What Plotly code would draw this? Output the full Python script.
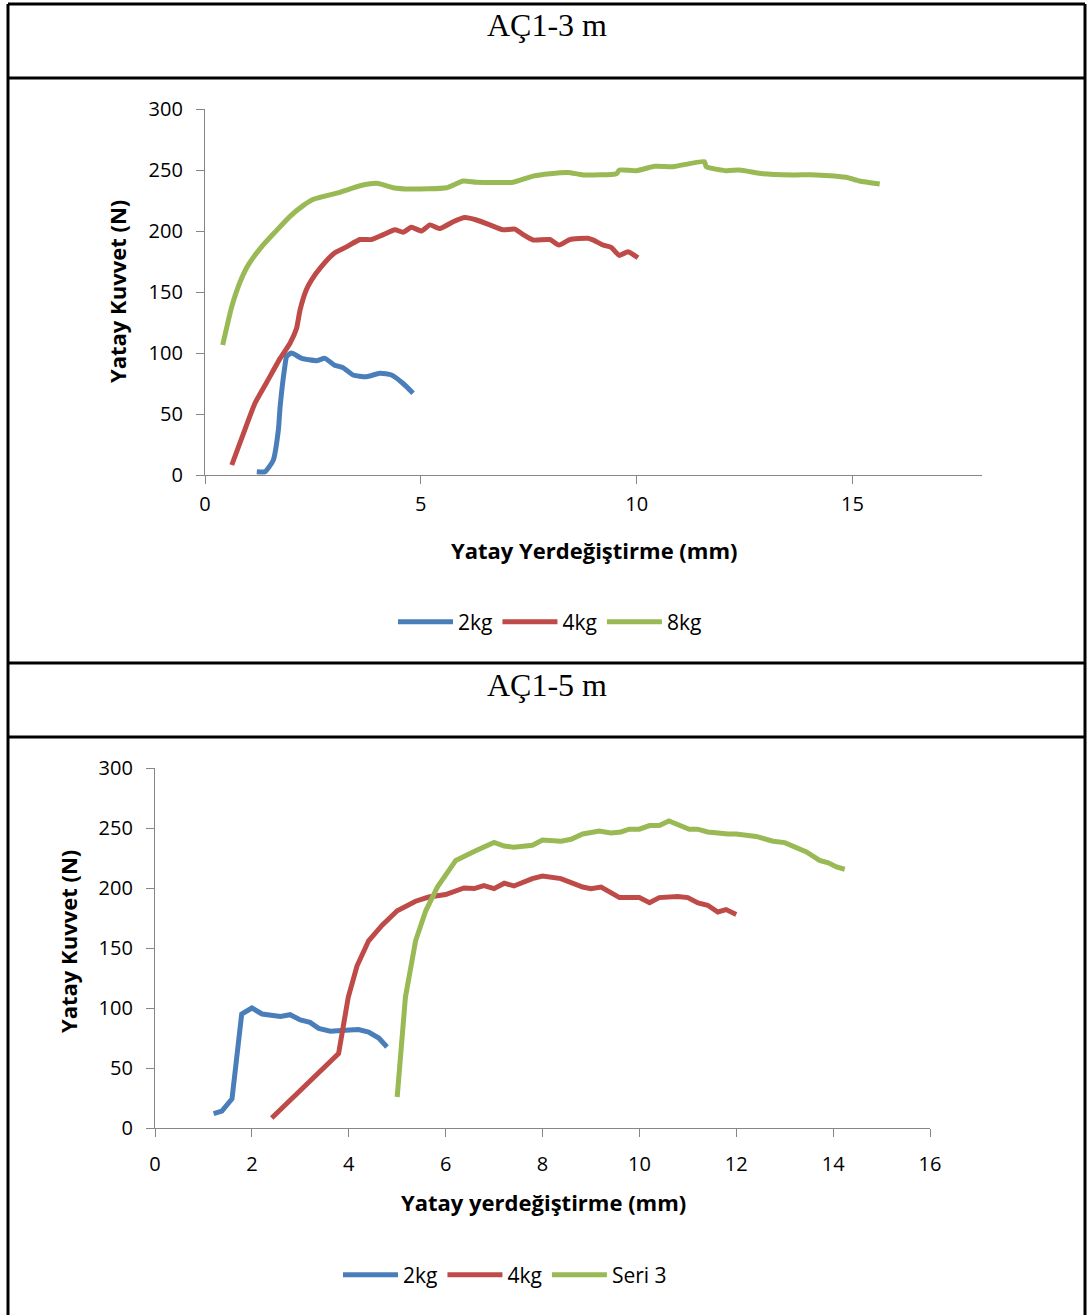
import plotly.graph_objects as go

W, H = 1088, 1315

# ---------------- data: AÇ1-3 m ----------------
blue_x_3m = [1.20, 1.39, 1.58, 1.70, 1.74, 1.85, 1.89, 2.00, 2.24, 2.58, 2.78, 3.00, 3.20, 3.43, 3.74, 4.05, 4.32, 4.59, 4.82]
blue_y_3m = [2.7, 2.7, 12, 37, 56, 89, 97, 100, 95.6, 93.7, 95.6, 90, 88, 82, 80.6, 83.3, 82, 75, 67]

red_x_3m = [0.62, 0.89, 1.16, 1.43, 1.74, 1.97, 2.12, 2.20, 2.35, 2.47, 2.70, 3.00, 3.28, 3.59, 3.86, 4.13, 4.40, 4.59, 4.78, 5.02,
            5.21, 5.44, 5.75, 6.02, 6.29, 6.60, 6.90, 7.18, 7.37, 7.60, 7.99, 8.20, 8.45, 8.87, 9.00, 9.22, 9.41, 9.60, 9.80, 10.03]
red_y_3m = [8.2, 34, 59, 76, 95.6, 108, 120, 135, 152, 160, 171, 182, 187, 193, 193, 197, 201, 199, 203, 200,
            205, 202, 207.6, 211, 209, 205, 201, 201.6, 197, 192.6, 193, 188.5, 193, 194, 192.5, 188.5, 186.6, 180, 183, 178]

green_x_3m = [0.41, 0.62, 0.81, 1.00, 1.31, 1.62, 1.97, 2.28, 2.51, 3.05, 3.66, 4.01, 4.36, 4.75, 5.60, 5.98, 6.29, 7.14, 7.60,
              7.99, 8.41, 8.76, 9.53, 9.60, 9.99, 10.42, 10.84, 11.57, 11.61, 12.08, 12.38, 12.92, 13.62, 14.16, 14.85, 15.16, 15.63]
green_y_3m = [106.6, 138, 158, 172, 187, 199, 212, 221, 226, 231, 237.7, 239, 235.5, 234.4, 235.5, 241, 240, 240, 245,
              247, 248, 246, 247, 250, 249.4, 253, 252.7, 256.8, 252.7, 249.4, 250, 247, 246, 246, 244, 241, 238.5]

# ---------------- data: AÇ1-5 m ----------------
blue_x_5m = [1.21, 1.38, 1.59, 1.79, 2.00, 2.21, 2.59, 2.79, 3.00, 3.20, 3.38, 3.62, 3.93, 4.20, 4.41, 4.62, 4.79]
blue_y_5m = [11.9, 14, 24.4, 95, 100, 95, 93, 94.4, 90, 88, 83, 80.6, 81.4, 82, 80, 75, 67.5]

red_x_5m = [2.41, 3.79, 3.99, 4.17, 4.41, 4.69, 5.00, 5.38, 5.65, 6.00, 6.38, 6.59, 6.79, 7.00, 7.21, 7.41, 7.79, 8.00, 8.38,
            8.83, 9.00, 9.21, 9.59, 10.00, 10.21, 10.41, 10.79, 11.00, 11.21, 11.41, 11.62, 11.79, 12.00]
red_y_5m = [8.3, 62, 109, 135, 156, 169, 181, 189, 192.5, 194.5, 200, 199.5, 202, 199.5, 204, 201.7, 207.8, 210, 207.8,
            200.8, 199.5, 200.8, 192, 192, 187.8, 192, 193, 192, 187.5, 185.6, 180, 182, 178]

green_x_5m = [5.00, 5.17, 5.38, 5.59, 5.83, 6.21, 6.62, 7.00, 7.21, 7.41, 7.79, 8.00, 8.38, 8.59, 8.83, 9.17, 9.41, 9.62, 9.79,
              10.00, 10.21, 10.41, 10.61, 10.83, 11.03, 11.20, 11.41, 11.83, 12.00, 12.41, 12.76, 13.00, 13.10, 13.45, 13.72,
              13.90, 14.07, 14.24]
green_y_5m = [25.8, 109, 156, 181, 200.8, 223, 231, 238, 235, 234, 235.6, 240, 239, 240.6, 245, 247.5, 245.8, 246.7, 249,
              249, 252, 252, 255.8, 251.7, 249, 249, 246.7, 245, 245, 243, 239, 237.8, 236, 230, 223,
              221, 217.5, 215.6]

names_3m = ["2kg", "4kg", "8kg"]
names_5m = ["2kg", "4kg", "Seri 3"]
titles = ["AÇ1-3 m", "AÇ1-5 m"]
xtitles = ["Yatay Yerdeğiştirme (mm)", "Yatay yerdeğiştirme (mm)"]
ytitle = "Yatay Kuvvet (N)"

COLORS = ["#4A7EBB", "#BE4B48", "#98B954"]
FONT = "Open Sans, Lato, sans-serif"
SERIF = "Liberation Serif, Times New Roman, serif"
AXC = "#868686"


def px(x):
    return x / W


def py(y):
    return 1 - y / H


fig = go.Figure()

for xs, ys, nm, c in zip([blue_x_3m, red_x_3m, green_x_3m], [blue_y_3m, red_y_3m, green_y_3m], names_3m, COLORS):
    fig.add_trace(go.Scatter(x=xs, y=ys, name=nm, mode="lines", xaxis="x", yaxis="y", legend="legend",
                             line=dict(color=c, width=5, shape="spline", smoothing=0.5)))

for xs, ys, nm, c in zip([blue_x_5m, red_x_5m, green_x_5m], [blue_y_5m, red_y_5m, green_y_5m], names_5m, COLORS):
    fig.add_trace(go.Scatter(x=xs, y=ys, name=nm, mode="lines", xaxis="x2", yaxis="y2", legend="legend2",
                             line=dict(color=c, width=5)))

axis_common = dict(showgrid=False, zeroline=False, showline=True, linecolor=AXC, linewidth=1.3,
                   ticks="outside", ticklen=8, tickcolor=AXC, tickwidth=1.3,
                   tickfont=dict(family=FONT, size=20, color="#000000"), fixedrange=True)

LEGFONT = dict(family=FONT, size=21, color="#000000")

fig.update_layout(
    autosize=True,
    margin=dict(l=0, r=0, t=0, b=0, autoexpand=False),
    paper_bgcolor="white", plot_bgcolor="white",
    xaxis=dict(domain=[px(205), px(982)], range=[0, 18], dtick=5, anchor="y", ticklabelstandoff=3, **axis_common),
    yaxis=dict(domain=[py(475), py(109)], range=[0, 300], dtick=50, anchor="x", ticklabelstandoff=9, **axis_common),
    xaxis2=dict(domain=[px(155), px(930)], range=[0, 16], dtick=2, anchor="y2", ticklabelstandoff=10, **axis_common),
    yaxis2=dict(domain=[py(1128), py(768)], range=[0, 300], dtick=50, anchor="x2", ticklabelstandoff=9, **axis_common),
    legend=dict(orientation="h", x=px(550), xanchor="center", y=py(622), yanchor="middle",
                font=LEGFONT, itemwidth=55, tracegroupgap=0, bgcolor="rgba(0,0,0,0)"),
    legend2=dict(orientation="h", x=px(505), xanchor="center", y=py(1275), yanchor="middle",
                 font=LEGFONT, itemwidth=55, tracegroupgap=0, bgcolor="rgba(0,0,0,0)"),
    showlegend=True,
)

# table borders
BL = dict(color="black", width=3)
shapes = [
    dict(type="line", xref="paper", yref="paper", x0=px(8), x1=px(8), y0=py(4), y1=0, line=BL),
    dict(type="line", xref="paper", yref="paper", x0=px(1085), x1=px(1085), y0=py(4), y1=0, line=BL),
]
for yy in [4, 78, 663, 737]:
    shapes.append(dict(type="line", xref="paper", yref="paper", x0=px(8), x1=px(1085), y0=py(yy), y1=py(yy), line=BL))
fig.update_layout(shapes=shapes)

ann = []
for t, yy in zip(titles, [25, 685]):
    ann.append(dict(text=t, xref="paper", yref="paper", x=px(547), y=py(yy), xanchor="center", yanchor="middle",
                    showarrow=False, font=dict(family=SERIF, size=32, color="#000000")))
TFONT = dict(family=FONT, size=22, color="#000000")
ann.append(dict(text="<b>" + xtitles[0] + "</b>", xref="paper", yref="paper", x=px(594), y=py(550),
                xanchor="center", yanchor="middle", showarrow=False, font=TFONT))
ann.append(dict(text="<b>" + xtitles[1] + "</b>", xref="paper", yref="paper", x=px(543), y=py(1202),
                xanchor="center", yanchor="middle", showarrow=False, font=TFONT))
ann.append(dict(text="<b>" + ytitle + "</b>", xref="paper", yref="paper", x=px(117), y=py(292), textangle=-90,
                xanchor="center", yanchor="middle", showarrow=False, font=TFONT))
ann.append(dict(text="<b>" + ytitle + "</b>", xref="paper", yref="paper", x=px(68), y=py(942), textangle=-90,
                xanchor="center", yanchor="middle", showarrow=False, font=TFONT))
fig.update_layout(annotations=ann)

fig.write_html("out.html",
               config={"displayModeBar": False, "responsive": True},
               default_width="100vw", default_height="100vh",
               post_script="document.body.style.margin='0';document.body.style.padding='0';"
                           "document.documentElement.style.overflow='hidden';"
                           "var gd=document.getElementById('{plot_id}');gd.style.width='100vw';gd.style.height='100vh';"
                           "Plotly.Plots.resize(gd);")
